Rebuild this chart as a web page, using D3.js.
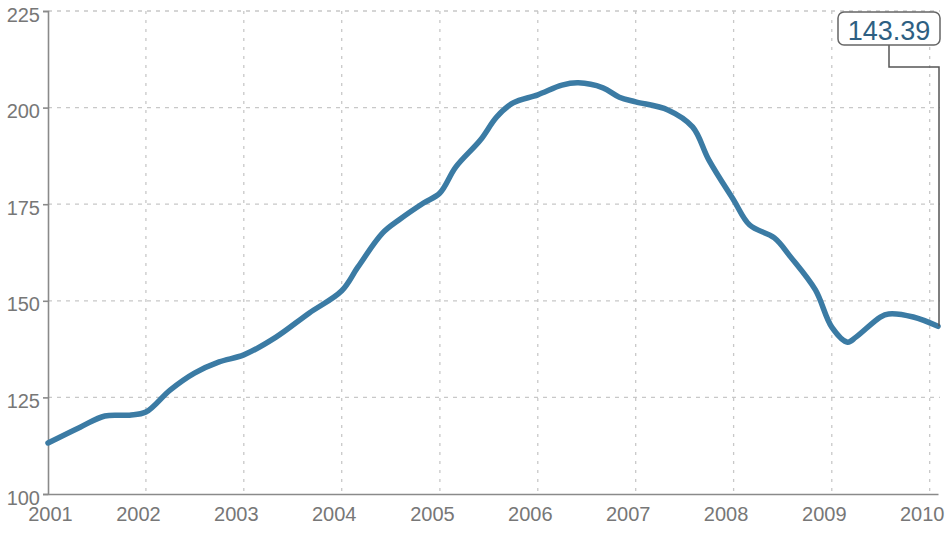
<!DOCTYPE html>
<html>
<head>
<meta charset="utf-8">
<script src="https://cdn.jsdelivr.net/npm/d3@7"></script>
<style>
body { margin: 0; background: #fff; }
text { font-family: "Liberation Sans", Arial, Helvetica, sans-serif; }
</style>
</head>
<body>
<div id="chart"></div>
<script>
// values (month, index)
var months = ["2001-01","2001-05","2001-08","2001-11","2002-01","2002-04","2002-07","2002-10",
  "2003-01","2003-05","2003-09","2004-01","2004-03","2004-06","2004-08","2004-11",
  "2005-01","2005-03","2005-06","2005-08","2005-10","2006-01","2006-04","2006-06",
  "2006-09","2006-11","2007-01","2007-05","2007-08","2007-10","2008-01","2008-03",
  "2008-06","2008-08","2008-11","2009-01","2009-03","2009-04","2009-07","2009-08",
  "2009-11","2010-02"]
var values = [113.2,117.3,120.2,120.4,121.2,126.9,131.3,134.2,
  136.0,140.6,146.8,152.6,158.7,167.5,170.9,175.3,
  177.9,184.6,191.6,197.6,201.2,203.3,205.8,206.4,
  205.1,202.7,201.5,199.4,195.0,186.4,176.1,169.6,
  166.3,161.3,152.8,143.2,139.3,140.6,145.8,146.6,
  145.8,143.39]
var yTicks = [100, 125, 150, 175, 200, 225]
var xTicks = [2001, 2002, 2003, 2004, 2005, 2006, 2007, 2008, 2009, 2010]

var parse = d3.timeParse("%Y-%m")
var data = months.map(function(m, i){ return {date: parse(m), value: values[i]} })
var last = data[data.length - 1]

var width = 948, height = 533
var padL = 48, padR = 938, padT = 11, padB = 494

var svg = d3.select("#chart").append("svg")
  .attr("width", width)
  .attr("height", height)

var x = d3.scaleTime()
  .domain([parse("2001-01"), parse("2010-02")])
  .range([padL, padR])

var y = d3.scaleLinear()
  .domain([100, 225])
  .range([padB, padT])

// grid
svg.append("g").selectAll("line").data(yTicks.slice(1))
  .enter().append("line")
  .attr("x1", padL).attr("x2", padR + 2)
  .attr("y1", function(d){ return y(d) }).attr("y2", function(d){ return y(d) })
  .attr("stroke", "#c8c8c8").attr("stroke-width", 1.3)
  .attr("stroke-dasharray", "4,5")

svg.append("g").selectAll("line").data(xTicks.slice(1))
  .enter().append("line")
  .attr("x1", function(d){ return x(new Date(d, 0, 1)) })
  .attr("x2", function(d){ return x(new Date(d, 0, 1)) })
  .attr("y1", padT).attr("y2", padB)
  .attr("stroke", "#c8c8c8").attr("stroke-width", 1.3)
  .attr("stroke-dasharray", "3,6")

// axes
var yAxis = d3.axisLeft(y).tickValues(yTicks).tickSize(5).tickPadding(3)
svg.append("g")
  .attr("class", "y axis")
  .attr("transform", "translate(" + padL + ",0)")
  .call(yAxis)

var xAxis = d3.axisBottom(x)
  .tickValues(xTicks.map(function(d){ return new Date(d, 0, 1) }))
  .tickSize(0).tickFormat(d3.timeFormat("%Y"))
svg.append("g")
  .attr("class", "x axis")
  .attr("transform", "translate(0," + padB + ")")
  .call(xAxis)

svg.selectAll(".axis path, .axis line").attr("stroke", "#8a8a8a").attr("stroke-width", 1.6)
svg.selectAll(".axis text").attr("fill", "#777").style("font-size", "20px")
svg.select(".y.axis").selectAll("text").attr("dy", "0.5em")
svg.select(".x.axis").selectAll("text")
  .attr("y", 13).attr("dy", "0.71em")
  .attr("x", function(d){ return Math.max(x(d) - 8, 50) - x(d) })

// line
var line = d3.line()
  .x(function(d){ return x(d.date) })
  .y(function(d){ return y(d.value) })
  .curve(d3.curveCatmullRom.alpha(0.5))

svg.append("path")
  .datum(data)
  .attr("d", line)
  .attr("fill", "none")
  .attr("stroke", "#3b7ba4")
  .attr("stroke-width", 5.5)
  .attr("stroke-linejoin", "round")
  .attr("stroke-linecap", "round")

// callout for last value
var bx = 838, bw = 102, by = 12, bh = 33
var ex = x(last.date) + 1, ey = y(last.value)
svg.append("path")
  .attr("d", "M" + (bx + bw / 2) + "," + (by + bh) + "V" + 67 + "H" + ex + "V" + ey)
  .attr("fill", "none")
  .attr("stroke", "#555")
  .attr("stroke-width", 1.5)

svg.append("rect")
  .attr("x", bx).attr("y", by)
  .attr("width", bw).attr("height", bh)
  .attr("rx", 6)
  .attr("fill", "#fff")
  .attr("stroke", "#666")
  .attr("stroke-width", 1.5)

svg.append("text")
  .attr("x", bx + bw / 2)
  .attr("y", by + 28)
  .attr("text-anchor", "middle")
  .attr("fill", "#2e5f82")
  .style("font-size", "27px")
  .text(d3.format(".2f")(last.value))
</script>
</body>
</html>
